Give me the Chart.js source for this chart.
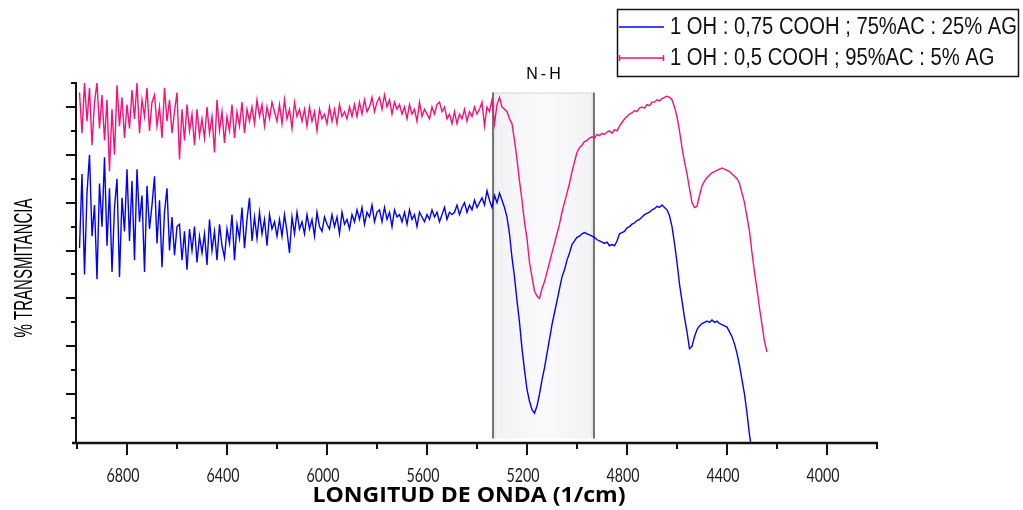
<!DOCTYPE html>
<html>
<head>
<meta charset="utf-8">
<title>Espectro IR - % Transmitancia</title>
<script src="https://cdn.jsdelivr.net/npm/chart.js@4/dist/chart.umd.min.js"></script>
<style>
  html, body { margin: 0; padding: 0; background: #fff; }
  #wrap { width: 1023px; height: 510px; }
</style>
</head>
<body>
<div id="wrap"><canvas id="c" width="1023" height="510"></canvas></div>
<script>
// eje X: longitud de onda (1/cm), cada 10
const wavenumbers = [
  6990,6980,6970,6960,6950,6940,6930,6920,6910,6900,
  6890,6880,6870,6860,6850,6840,6830,6820,6810,6800,
  6790,6780,6770,6760,6750,6740,6730,6720,6710,6700,
  6690,6680,6670,6660,6650,6640,6630,6620,6610,6600,
  6590,6580,6570,6560,6550,6540,6530,6520,6510,6500,
  6490,6480,6470,6460,6450,6440,6430,6420,6410,6400,
  6390,6380,6370,6360,6350,6340,6330,6320,6310,6300,
  6290,6280,6270,6260,6250,6240,6230,6220,6210,6200,
  6190,6180,6170,6160,6150,6140,6130,6120,6110,6100,
  6090,6080,6070,6060,6050,6040,6030,6020,6010,6000,
  5990,5980,5970,5960,5950,5940,5930,5920,5910,5900,
  5890,5880,5870,5860,5850,5840,5830,5820,5810,5800,
  5790,5780,5770,5760,5750,5740,5730,5720,5710,5700,
  5690,5680,5670,5660,5650,5640,5630,5620,5610,5600,
  5590,5580,5570,5560,5550,5540,5530,5520,5510,5500,
  5490,5480,5470,5460,5450,5440,5430,5420,5410,5400,
  5390,5380,5370,5360,5350,5340,5330,5320,5310,5300,
  5290,5280,5270,5260,5250,5240,5230,5220,5210,5200,
  5190,5180,5170,5160,5150,5140,5130,5120,5110,5100,
  5090,5080,5070,5060,5050,5040,5030,5020,5010,5000,
  4990,4980,4970,4960,4950,4940,4930,4920,4910,4900,
  4890,4880,4870,4860,4850,4840,4830,4820,4810,4800,
  4790,4780,4770,4760,4750,4740,4730,4720,4710,4700,
  4690,4680,4670,4660,4650,4640,4630,4620,4610,4600,
  4590,4580,4570,4560,4550,4540,4530,4520,4510,4500,
  4490,4480,4470,4460,4450,4440,4430,4420,4410,4400,
  4390,4380,4370,4360,4350,4340,4330,4320,4310,4300,
  4290,4280,4270,4260,4250,4240
];

// 1 OH : 0,75 COOH ; 75%AC : 25% AG  (azul)
const acAg75 = [
  8.1,11.2,7.0,10.4,12.0,8.6,9.9,6.8,10.8,9.0,
  11.9,8.2,10.6,7.1,9.8,11.0,6.9,10.2,8.8,11.4,
  8.4,10.9,7.6,11.4,9.2,10.3,7.1,10.7,8.9,9.9,
  11.1,8.3,10.1,7.3,9.6,10.6,8.0,9.4,7.8,9.0,
  9.1,7.6,8.8,7.2,8.9,8.0,9.0,7.5,8.6,7.9,
  8.7,7.4,9.3,8.0,8.8,7.6,9.1,8.2,7.7,8.9,
  8.3,9.5,7.6,9.1,8.5,9.8,8.1,9.3,10.2,8.4,
  9.4,8.5,9.6,8.7,9.3,8.2,9.5,8.9,9.2,8.6,
  9.3,8.6,9.5,8.8,7.9,9.4,8.7,9.6,8.9,9.2,
  8.7,9.5,8.9,9.3,8.6,9.6,9.0,8.8,9.4,9.1,
  8.9,9.5,9.0,9.4,8.7,9.6,9.1,9.3,8.9,9.5,
  9.2,9.7,9.3,9.8,9.1,9.6,9.4,9.9,9.2,9.6,
  9.7,9.2,9.8,9.3,9.6,9.0,9.7,9.4,9.5,9.2,
  9.6,9.1,9.7,9.3,9.5,9.0,9.6,9.4,9.2,9.5,
  9.3,9.7,9.4,9.6,9.2,9.5,9.8,9.3,9.6,9.5,
  9.6,9.9,9.5,9.8,10.0,9.6,9.9,9.7,10.1,9.8,
  10.0,10.2,9.9,10.5,10.1,9.8,10.3,10.0,10.4,10.1,
  9.8,9.4,8.7,7.7,6.9,5.9,5.0,3.9,3.0,2.2,
  1.7,1.35,1.2,1.5,2.0,2.6,3.1,3.7,4.3,4.9,
  5.4,5.9,6.4,6.9,7.2,7.6,7.9,8.25,8.4,8.55,
  8.6,8.7,8.75,8.7,8.65,8.6,8.55,8.45,8.4,8.35,
  8.3,8.35,8.2,8.25,8.2,8.4,8.7,8.75,8.8,8.95,
  9.0,9.1,9.15,9.25,9.3,9.4,9.5,9.55,9.6,9.7,
  9.75,9.85,9.8,9.9,9.8,9.7,9.45,9.0,8.3,7.5,
  6.6,5.9,5.2,4.6,3.9,4.0,4.4,4.7,4.85,4.95,
  5.0,5.05,5.0,5.1,5.0,5.05,4.95,4.9,4.85,4.8,
  4.6,4.4,4.1,3.7,3.2,2.6,2.0,1.2,0.3,-0.4,
  -1.0
];

// 1 OH : 0,5 COOH ; 95%AC : 5% AG  (rosa)
const acAg95 = [
  14.6,12.9,15.0,13.4,14.8,12.4,14.2,15.0,13.1,14.5,
  12.6,14.3,11.3,13.9,12.0,14.9,13.2,14.4,12.7,14.1,
  13.1,14.7,13.5,15.0,12.9,14.3,13.6,14.8,13.0,14.2,
  14.5,13.2,14.0,12.7,14.8,13.4,14.3,12.9,13.8,14.6,
  11.8,13.9,12.6,14.1,13.0,13.7,12.4,13.9,12.8,13.5,
  12.7,14.0,12.9,13.6,12.1,14.3,13.0,13.8,12.5,13.6,
  13.0,14.1,12.7,13.8,13.2,14.2,12.9,13.9,13.4,14.0,
  13.3,14.3,13.6,14.1,13.2,14.0,13.5,14.2,13.8,13.4,
  14.1,13.3,14.3,13.5,13.9,13.1,14.2,13.6,13.9,13.4,
  13.9,13.2,14.0,13.4,13.8,13.0,13.9,13.5,13.7,13.3,
  14.0,13.4,13.9,13.3,14.1,13.6,13.8,13.5,14.0,13.6,
  14.1,13.6,14.2,13.7,14.3,13.8,14.0,14.4,13.8,14.2,
  14.4,13.9,14.5,14.0,14.3,13.7,14.2,13.9,14.1,13.7,
  14.0,13.5,14.1,13.7,13.9,13.4,14.2,13.6,13.9,13.7,
  13.5,14.0,13.7,14.1,14.2,13.8,14.0,13.5,13.7,13.3,
  13.8,13.3,13.7,13.5,13.9,13.4,13.8,13.6,14.0,13.7,
  13.9,14.2,13.2,14.0,13.8,14.3,13.3,14.1,14.4,14.0,
  13.9,13.8,13.5,13.3,12.6,11.8,10.9,10.1,9.2,8.5,
  7.5,6.9,6.3,6.1,6.0,6.4,6.7,7.1,7.5,7.9,
  8.3,8.7,9.1,9.6,10.0,10.4,10.8,11.3,11.7,12.1,
  12.3,12.4,12.55,12.6,12.7,12.75,12.7,12.85,12.8,12.9,
  12.85,12.95,13.0,12.9,13.05,13.0,13.2,13.35,13.5,13.6,
  13.7,13.75,13.85,13.8,13.95,14.0,13.95,14.1,14.05,14.2,
  14.2,14.3,14.25,14.35,14.4,14.45,14.4,14.3,14.0,13.6,
  13.0,12.3,11.7,11.2,10.6,10.0,9.8,9.85,10.3,10.7,
  10.9,11.05,11.15,11.25,11.3,11.35,11.4,11.45,11.4,11.35,
  11.3,11.2,11.1,11.0,10.8,10.4,10.0,9.4,8.8,7.9,
  7.1,6.4,5.6,4.9,4.2,3.76
];

const seriesLabels = [
  '1 OH : 0,75 COOH ; 75%AC : 25% AG',
  '1 OH : 0,5 COOH ; 95%AC : 5% AG'
];
const seriesColors = ['#0000ff', '#ff0d72'];

const xMajorTicks = [6800, 6400, 6000, 5600, 5200, 4800, 4400, 4000];
const xMinorTicks = [7000, 6600, 6200, 5800, 5400, 5000, 4600, 4200, 3800];
const xTickLabels = ['6800', '6400', '6000', '5600', '5200', '4800', '4400', '4000'];
const yMajorTicks = [2, 4, 6, 8, 10, 12, 14];
const yMinorTicks = [1, 3, 5, 7, 9, 11, 13, 15];

// banda N-H marcada en el grafico
const nhBand = [5336, 4932];
const nhTop = 14.6;
const nhBottom = 0.15;

// texto estirado para imitar la fuente estrecha del original
function fitText(ctx, text, x, y, font, width, align) {
  ctx.save();
  ctx.font = font;
  const w = ctx.measureText(text).width;
  ctx.translate(x, y);
  ctx.scale(width / w, 1);
  ctx.textAlign = align || 'center';
  ctx.textBaseline = 'middle';
  ctx.fillText(text, 0, 0);
  ctx.restore();
}

const decor = {
  id: 'decor',
  beforeDatasetsDraw(chart) {
    const ctx = chart.ctx, xs = chart.scales.x, ys = chart.scales.y;
    const l = xs.getPixelForValue(nhBand[0]), r = xs.getPixelForValue(nhBand[1]);
    const t = ys.getPixelForValue(nhTop), b = ys.getPixelForValue(nhBottom);
    ctx.save();
    const g = ctx.createLinearGradient(l, 0, r, 0);
    g.addColorStop(0, '#e2e2e6');
    g.addColorStop(0.04, '#f3f3f6');
    g.addColorStop(0.5, '#fafafc');
    g.addColorStop(0.96, '#f3f3f6');
    g.addColorStop(1, '#e0e0e4');
    ctx.fillStyle = g;
    ctx.fillRect(l, t, r - l, b - t);
    ctx.strokeStyle = '#d6d6da';
    ctx.lineWidth = 1;
    ctx.beginPath();
    ctx.moveTo(l, t + 0.5); ctx.lineTo(r, t + 0.5);
    ctx.stroke();
    ctx.strokeStyle = '#555';
    ctx.lineWidth = 1.6;
    ctx.beginPath();
    ctx.moveTo(l, t); ctx.lineTo(l, b);
    ctx.moveTo(r, t); ctx.lineTo(r, b);
    ctx.stroke();
    ctx.restore();
  },
  afterDatasetsDraw(chart) {
    const ctx = chart.ctx, xs = chart.scales.x, ys = chart.scales.y;
    const area = chart.chartArea;
    const x0 = area.left, yb = area.bottom;
    ctx.save();
    ctx.strokeStyle = '#111';
    ctx.fillStyle = '#111';

    // ejes
    ctx.lineWidth = 2.5;
    ctx.beginPath();
    ctx.moveTo(x0 - 5, yb + 1); ctx.lineTo(area.right + 1, yb + 1);
    ctx.stroke();
    ctx.lineWidth = 2;
    ctx.beginPath();
    ctx.moveTo(x0 - 1, area.top); ctx.lineTo(x0 - 1, yb + 1);
    ctx.stroke();

    // marcas
    ctx.lineWidth = 2;
    ctx.beginPath();
    xMajorTicks.forEach(v => {
      const px = Math.round(xs.getPixelForValue(v));
      ctx.moveTo(px, yb); ctx.lineTo(px, yb + 13);
    });
    xMinorTicks.forEach(v => {
      const px = Math.round(xs.getPixelForValue(v));
      ctx.moveTo(px, yb); ctx.lineTo(px, yb + 7);
    });
    ctx.moveTo(x0 - 1, yb - 5); ctx.lineTo(x0 - 1, yb);
    yMajorTicks.forEach(v => {
      const py = Math.round(ys.getPixelForValue(v));
      ctx.moveTo(x0 - 11, py); ctx.lineTo(x0, py);
    });
    yMinorTicks.forEach(v => {
      const py = Math.round(ys.getPixelForValue(v));
      ctx.moveTo(x0 - 6, py); ctx.lineTo(x0, py);
    });
    ctx.stroke();

    // etiquetas del eje X
    ctx.fillStyle = '#1a1a1a';
    xMajorTicks.forEach((v, i) => {
      fitText(ctx, xTickLabels[i], xs.getPixelForValue(v) - 4, yb + 34, '20px Lato', 33);
    });

    // titulos
    ctx.fillStyle = '#000';
    fitText(ctx, 'LONGITUD DE ONDA (1/cm)', 469, 496, 'bold 21px "Open Sans"', 313);
    ctx.save();
    ctx.translate(25, 268);
    ctx.rotate(-Math.PI / 2);
    fitText(ctx, '% TRANSMITANCIA', 0, 0, '25px "Liberation Sans"', 139);
    ctx.restore();

    // rotulo N-H
    ctx.font = '16px "Liberation Sans"';
    ctx.textBaseline = 'middle';
    ctx.textAlign = 'left';
    const nh = ['N', '-', 'H'];
    const gap = 3;
    let tw = nh.reduce((s, ch) => s + ctx.measureText(ch).width, 0) + gap * (nh.length - 1);
    let cx = (xs.getPixelForValue(nhBand[0]) + xs.getPixelForValue(nhBand[1])) / 2 - tw / 2;
    nh.forEach(ch => {
      ctx.fillText(ch, cx, 75);
      cx += ctx.measureText(ch).width + gap;
    });

    // leyenda
    ctx.lineWidth = 1.5;
    ctx.strokeStyle = '#111';
    ctx.strokeRect(617.5, 9.5, 401, 67);
    const rows = [27, 58];
    ctx.font = '23px "Liberation Sans"';
    const sx = 347 / ctx.measureText(seriesLabels[0]).width;
    chart.data.datasets.forEach((ds, i) => {
      const y = rows[i];
      ctx.strokeStyle = ds.borderColor;
      ctx.lineWidth = 1.5;
      ctx.beginPath();
      ctx.moveTo(619, y); ctx.lineTo(664, y);
      if (i === 1) {
        ctx.moveTo(619.5, y - 3); ctx.lineTo(619.5, y + 3);
        ctx.moveTo(663.5, y - 3); ctx.lineTo(663.5, y + 3);
      }
      ctx.stroke();
      ctx.save();
      ctx.fillStyle = '#111';
      ctx.translate(670, y + 1);
      ctx.scale(sx, 1);
      ctx.textAlign = 'left';
      ctx.textBaseline = 'middle';
      ctx.fillText(ds.label, 0, 0);
      ctx.restore();
    });
    ctx.restore();
  }
};

new Chart(document.getElementById('c'), {
  type: 'line',
  data: {
    datasets: [
      {
        label: seriesLabels[0],
        data: acAg75.map((v, i) => ({ x: wavenumbers[i], y: v })),
        borderColor: seriesColors[0],
        borderWidth: 1.4,
        pointRadius: 0,
        tension: 0
      },
      {
        label: seriesLabels[1],
        data: acAg95.map((v, i) => ({ x: wavenumbers[i], y: v })),
        borderColor: seriesColors[1],
        borderWidth: 1.4,
        pointRadius: 0,
        tension: 0
      }
    ]
  },
  options: {
    responsive: false,
    animation: false,
    layout: { padding: { left: 77, right: 146, top: 83, bottom: 68 } },
    scales: {
      x: { type: 'linear', min: 3800, max: 7000, reverse: true, display: false },
      y: { type: 'linear', min: 0, max: 15, display: false }
    },
    plugins: { legend: { display: false }, tooltip: { enabled: false } }
  },
  plugins: [decor]
});
</script>
</body>
</html>
